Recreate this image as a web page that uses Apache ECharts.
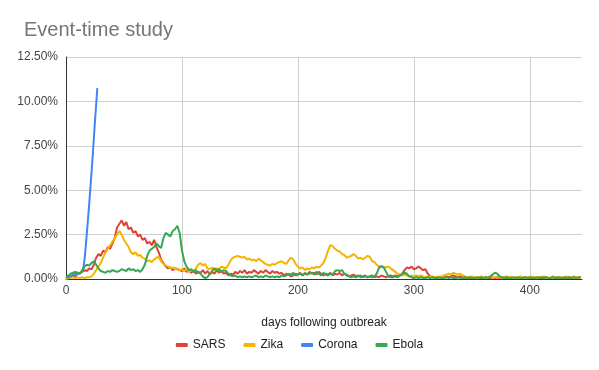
<!DOCTYPE html>
<html>
<head>
<meta charset="utf-8">
<script src="https://cdn.jsdelivr.net/npm/echarts@6/dist/echarts.min.js"></script>
<style>html,body{margin:0;padding:0;background:#fff}#c{width:599px;height:370px}</style>
</head>
<body>
<div id="c"></div>
<script>
const seriesNames = ["SARS", "Zika", "Corona", "Ebola"];
const yTicks = [0, 2.5, 5, 7.5, 10, 12.5];
const xTicks = [0, 100, 200, 300, 400];

const days = [
0,2,4,6,8,10,12,14,16,18,20,22,24,26,28,30,32,34,36,38,40,42,44,46,48,50,52,54,56,58,
60,62,64,66,68,70,72,74,76,78,80,82,84,86,88,90,92,94,96,98,100,102,104,106,108,110,112,114,116,118,
120,122,124,126,128,130,132,134,136,138,140,142,144,146,148,150,152,154,156,158,160,162,164,166,168,170,172,174,176,178,
180,182,184,186,188,190,192,194,196,198,200,202,204,206,208,210,212,214,216,218,220,222,224,226,228,230,232,234,236,238,
240,242,244,246,248,250,252,254,256,258,260,262,264,266,268,270,272,274,276,278,280,282,284,286,288,290,292,294,296,298,
300,302,304,306,308,310,312,314,316,318,320,322,324,326,328,330,332,334,336,338,340,342,344,346,348,350,352,354,356,358,
360,362,364,366,368,370,372,374,376,378,380,382,384,386,388,390,392,394,396,398,400,402,404,406,408,410,412,414,416,418,
420,422,424,426,428,430,432,434,436,438,440,442,444
];

const sars = [
0.05,0.1,0.15,0.2,0.15,0.3,0.35,0.4,0.5,0.45,
0.6,0.55,0.8,1.2,1.4,1.3,1.6,1.5,1.8,1.7,
2.0,2.3,2.9,3.1,3.3,3.0,3.2,2.8,2.9,2.6,
2.7,2.4,2.5,2.2,2.3,2.0,2.1,1.9,2.2,1.8,
1.5,1.1,0.9,0.7,0.6,0.65,0.5,0.6,0.55,0.5,
0.45,0.6,0.4,0.5,0.35,0.45,0.3,0.4,0.35,0.5,
0.3,0.45,0.25,0.4,0.3,0.5,0.35,0.45,0.3,0.35,
0.2,0.3,0.25,0.4,0.3,0.45,0.35,0.5,0.3,0.4,
0.35,0.5,0.4,0.3,0.45,0.35,0.5,0.4,0.3,0.45,
0.35,0.4,0.3,0.35,0.2,0.3,0.25,0.15,0.2,0.3,
0.25,0.35,0.2,0.3,0.25,0.4,0.3,0.35,0.25,0.4,
0.3,0.2,0.3,0.25,0.35,0.2,0.3,0.25,0.35,0.2,
0.3,0.25,0.15,0.2,0.25,0.15,0.2,0.1,0.15,0.2,
0.1,0.15,0.2,0.1,0.15,0.1,0.2,0.15,0.1,0.15,
0.2,0.15,0.2,0.15,0.2,0.3,0.5,0.65,0.6,0.7,
0.55,0.6,0.7,0.6,0.5,0.55,0.3,0.15,0.1,0.1,
0.05,0.1,0.05,0.1,0.15,0.1,0.15,0.2,0.15,0.1,
0.15,0.1,0.05,0.1,0.05,0.1,0.05,0.05,0.1,0.05,
0.05,0.1,0.05,0.05,0.1,0.05,0.1,0.05,0.05,0.1,
0.05,0.05,0.1,0.05,0.05,0.1,0.05,0.05,0.1,0.05,
0.05,0.1,0.05,0.05,0.1,0.05,0.05,0.1,0.05,0.05,
0.1,0.05,0.05,0.1,0.05,0.05,0.1,0.05,0.05,0.1,
0.05,0.05,0.1
];

const zika = [
0,0.05,0.05,0.1,0.05,0.1,0.05,0.1,0.05,0.1,
0.1,0.15,0.3,0.5,0.7,0.9,1.2,1.5,1.7,1.9,
2.1,2.3,2.5,2.7,2.5,2.2,2.0,1.8,1.5,1.4,
1.5,1.3,1.35,1.2,1.15,1.0,1.05,0.95,1.1,1.2,
1.25,1.0,0.85,0.75,0.7,0.6,0.65,0.55,0.6,0.5,
0.55,0.45,0.55,0.4,0.5,0.45,0.6,0.8,0.9,0.75,
0.85,0.6,0.55,0.65,0.5,0.6,0.55,0.7,0.65,0.6,
0.8,1.05,1.2,1.25,1.3,1.25,1.2,1.25,1.1,1.15,
1.05,1.1,1.0,1.15,1.05,0.95,0.85,0.8,0.75,0.85,
0.8,0.9,0.95,1.0,0.9,0.85,1.05,1.2,1.1,0.85,
0.7,0.6,0.65,0.5,0.6,0.55,0.65,0.6,0.7,0.65,
0.75,0.9,1.2,1.6,1.9,1.85,1.7,1.6,1.55,1.4,
1.35,1.2,1.25,1.3,1.4,1.3,1.15,1.2,1.1,1.2,
1.3,1.25,1.0,0.95,0.8,0.7,0.75,0.7,0.65,0.7,
0.6,0.5,0.4,0.3,0.25,0.2,0.25,0.2,0.15,0.2,
0.15,0.2,0.15,0.2,0.15,0.1,0.15,0.1,0.15,0.1,
0.15,0.1,0.15,0.2,0.25,0.3,0.25,0.35,0.3,0.25,
0.3,0.2,0.15,0.1,0.1,0.15,0.1,0.05,0.1,0.15,
0.1,0.05,0.1,0.15,0.1,0.1,0.15,0.1,0.05,0.1,
0.15,0.1,0.1,0.05,0.1,0.1,0.15,0.1,0.05,0.1,
0.1,0.15,0.1,0.05,0.1,0.1,0.15,0.1,0.05,0.1,
0.15,0.1,0.1,0.05,0.1,0.1,0.15,0.1,0.1,0.15,
0.1,0.05,0.1
];

const ebola = [
0.1,0.2,0.3,0.35,0.4,0.35,0.3,0.5,0.7,0.8,
0.75,0.9,1.0,0.8,0.6,0.45,0.4,0.35,0.45,0.4,
0.5,0.45,0.4,0.45,0.55,0.5,0.45,0.6,0.5,0.55,
0.45,0.5,0.4,0.55,0.8,1.3,1.6,1.7,1.8,2.0,
1.85,1.75,2.3,2.6,2.5,2.4,2.7,2.8,3.0,2.6,
1.6,1.0,0.7,0.5,0.55,0.4,0.5,0.35,0.3,0.15,
0.05,0.1,0.3,0.45,0.6,0.5,0.55,0.4,0.5,0.45,
0.3,0.2,0.15,0.2,0.1,0.15,0.1,0.15,0.1,0.15,
0.1,0.15,0.2,0.1,0.15,0.1,0.2,0.15,0.1,0.15,
0.1,0.15,0.1,0.2,0.15,0.2,0.3,0.25,0.35,0.2,
0.25,0.3,0.2,0.35,0.25,0.3,0.35,0.25,0.4,0.3,
0.2,0.35,0.25,0.2,0.3,0.25,0.45,0.5,0.45,0.5,
0.3,0.2,0.15,0.1,0.15,0.1,0.15,0.2,0.1,0.15,
0.1,0.15,0.1,0.15,0.3,0.65,0.7,0.65,0.4,0.15,
0.1,0.1,0.15,0.1,0.2,0.3,0.35,0.3,0.15,0.1,
0.05,0.1,0.05,0.1,0.05,0.05,0.1,0.05,0.1,0.05,
0.05,0.1,0.05,0.05,0.1,0.05,0.1,0.05,0.05,0.1,
0.05,0.05,0.1,0.05,0.1,0.05,0.05,0.1,0.05,0.1,
0.05,0.1,0.05,0.15,0.25,0.35,0.3,0.15,0.1,0.05,
0.1,0.05,0.05,0.1,0.05,0.1,0.05,0.05,0.1,0.05,
0.1,0.05,0.05,0.1,0.05,0.1,0.05,0.1,0.05,0.05,
0.1,0.05,0.1,0.05,0.05,0.1,0.05,0.1,0.05,0.1,
0.05,0.1,0.1
];

const coronaDays = [0,1,2,3,4,5,6,7,8,9,10,11,12,13,14,15,16,17,18,19,20,21,22,23,24,25,26,27];
const corona = [0.1,0.15,0.1,0.2,0.15,0.2,0.25,0.2,0.3,0.25,0.3,0.35,0.3,0.4,0.45,0.6,1.1,1.8,2.6,3.4,4.2,5.1,6.0,6.9,7.9,8.9,9.8,10.75];

const colors = ["#db4437", "#f4b400", "#4285f4", "#34a853"];

function pair(xs, ys) { return ys.map((v, i) => [xs[i], v]); }

const FONT = "'Liberation Sans', Arial, sans-serif";
const chart = echarts.init(document.getElementById('c'), null, {renderer: 'canvas'});
chart.setOption({
  animation: false,
  color: colors,
  title: {
    text: "Event-time study",
    left: 19, top: 15,
    textStyle: {fontFamily: FONT, fontSize: 20, fontWeight: 'normal', color: '#757575'}
  },
  legend: {
    data: seriesNames,
    bottom: 14,
    left: 'center',
    icon: 'roundRect',
    itemWidth: 12, itemHeight: 4,
    itemGap: 18,
    textStyle: {fontFamily: FONT, fontSize: 12, color: '#222'}
  },
  grid: {left: 66, right: 17, top: 57, bottom: 91, containLabel: false},
  xAxis: {
    type: 'value',
    min: 0, max: 445, interval: 100,
    name: "days following outbreak",
    nameLocation: 'middle',
    nameGap: 38,
    nameTextStyle: {fontFamily: FONT, fontSize: 12, color: '#222'},
    axisLine: {show: true, lineStyle: {color: '#333', width: 1}},
    axisTick: {show: false},
    axisLabel: {fontFamily: FONT, fontSize: 12, color: '#444', margin: 6, showMaxLabel: false,
      formatter: v => xTicks.indexOf(v) >= 0 ? String(v) : ''},
    splitLine: {show: true, showMaxLine: false, lineStyle: {color: '#d0d0d0', width: 1}}
  },
  yAxis: {
    type: 'value',
    min: 0, max: 12.5, interval: 2.5,
    axisLine: {show: true, lineStyle: {color: '#333', width: 1}},
    axisTick: {show: false},
    axisLabel: {fontFamily: FONT, fontSize: 12, color: '#444', margin: 8,
      formatter: v => yTicks.indexOf(v) >= 0 ? v.toFixed(2) + '%' : ''},
    splitLine: {show: true, lineStyle: {color: '#d0d0d0', width: 1}}
  },
  series: [
    {name: seriesNames[0], type: 'line', data: pair(days, sars), showSymbol: false, symbol: 'none', lineStyle: {width: 2}},
    {name: seriesNames[1], type: 'line', data: pair(days, zika), showSymbol: false, symbol: 'none', lineStyle: {width: 2}},
    {name: seriesNames[2], type: 'line', data: pair(coronaDays, corona), showSymbol: false, symbol: 'none', lineStyle: {width: 2}},
    {name: seriesNames[3], type: 'line', data: pair(days, ebola), showSymbol: false, symbol: 'none', lineStyle: {width: 2}}
  ]
});
</script>
</body>
</html>
